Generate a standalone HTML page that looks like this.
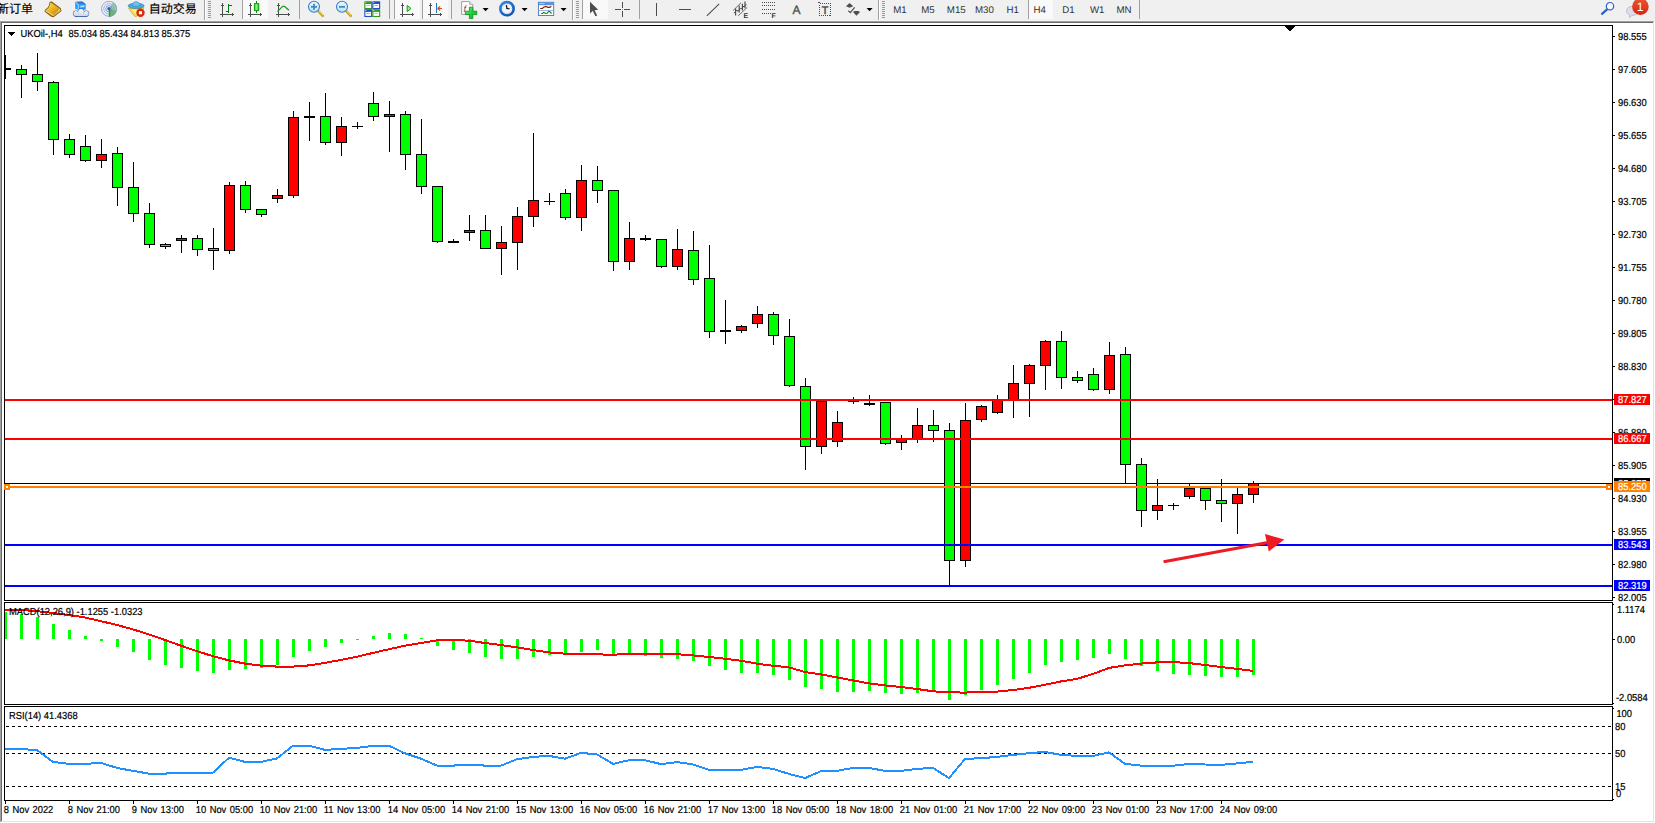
<!DOCTYPE html>
<html><head><meta charset="utf-8"><title>UKOil-,H4</title>
<style>html,body{margin:0;padding:0;background:#fff;overflow:hidden}svg{display:block;text-rendering:geometricPrecision;font-family:"Liberation Sans","Noto Sans CJK SC",sans-serif}</style>
</head><body>
<svg width="1655" height="823" viewBox="0 0 1655 823">
<rect x="0" y="0" width="1655" height="823" fill="#fff"/>
<g shape-rendering="crispEdges">
<rect x="0" y="0" width="1655" height="20" fill="#f0f0f0"/>
<rect x="0" y="20" width="1655" height="1" fill="#f4f4f4"/>
<rect x="0" y="21" width="1654" height="1" fill="#a0a0a0"/>
<rect x="1" y="22" width="1652" height="1" fill="#696969"/>
<rect x="0" y="21" width="1" height="801" fill="#a0a0a0"/>
<rect x="1" y="22" width="1" height="799" fill="#696969"/>
<rect x="1653" y="22" width="1" height="800" fill="#e3e3e3"/>
<rect x="1" y="821" width="1653" height="1" fill="#e3e3e3"/>
<rect x="4" y="25" width="1609" height="1" fill="#000"/>
<rect x="4" y="600" width="1609" height="1" fill="#000"/>
<rect x="4" y="25" width="1" height="576" fill="#000"/>
<rect x="1612" y="25" width="1" height="576" fill="#000"/>
<rect x="4" y="602" width="1609" height="1" fill="#000"/>
<rect x="4" y="704" width="1609" height="1" fill="#000"/>
<rect x="4" y="602" width="1" height="103" fill="#000"/>
<rect x="1612" y="602" width="1" height="103" fill="#000"/>
<rect x="4" y="706" width="1609" height="1" fill="#000"/>
<rect x="4" y="800" width="1609" height="1" fill="#000"/>
<rect x="4" y="706" width="1" height="95" fill="#000"/>
<rect x="1612" y="706" width="1" height="95" fill="#000"/>
</g>
<g id="toolbar">
<defs>
<linearGradient id="gold" x1="0" y1="0" x2="1" y2="1"><stop offset="0" stop-color="#fbe27a"/><stop offset="0.5" stop-color="#e9b41f"/><stop offset="1" stop-color="#b87a12"/></linearGradient>
<linearGradient id="grn" x1="0" y1="0" x2="1" y2="0"><stop offset="0" stop-color="#1fd11f"/><stop offset="0.5" stop-color="#8df58d"/><stop offset="1" stop-color="#16b816"/></linearGradient>
<linearGradient id="lens" x1="0" y1="0" x2="0" y2="1"><stop offset="0" stop-color="#eaf7ff"/><stop offset="1" stop-color="#b9e1f7"/></linearGradient>
<linearGradient id="badge" x1="0" y1="0" x2="0" y2="1"><stop offset="0" stop-color="#e8573a"/><stop offset="1" stop-color="#d8230f"/></linearGradient>
<linearGradient id="cloud" gradientUnits="userSpaceOnUse" x1="0" y1="9" x2="0" y2="16.5"><stop offset="0" stop-color="#ffffff"/><stop offset="1" stop-color="#c3d3ea"/></linearGradient>
<radialGradient id="clk" cx="0.4" cy="0.35" r="0.7"><stop offset="0" stop-color="#3aa0f5"/><stop offset="1" stop-color="#0b4fb0"/></radialGradient>
<linearGradient id="plusg" x1="0" y1="0" x2="1" y2="1"><stop offset="0" stop-color="#7af08a"/><stop offset="0.5" stop-color="#1fd23a"/><stop offset="1" stop-color="#10b028"/></linearGradient>
</defs>
<g shape-rendering="crispEdges">
<rect x="243" y="0" width="25" height="19" fill="#f9f9f9"/>
<rect x="395" y="0" width="25" height="19" fill="#f9f9f9"/>
<rect x="423" y="0" width="25" height="19" fill="#f9f9f9"/>
<rect x="583" y="0" width="25" height="19" fill="#f9f9f9"/>
<rect x="1029" y="0" width="24" height="19" fill="#f9f9f9"/>
<rect x="204" y="0" width="1" height="20" fill="#a0a0a0"/>
<rect x="205" y="0" width="1" height="20" fill="#fff"/>
<rect x="208" y="1" width="3" height="1" fill="#999"/>
<rect x="208" y="3" width="3" height="1" fill="#999"/>
<rect x="208" y="5" width="3" height="1" fill="#999"/>
<rect x="208" y="7" width="3" height="1" fill="#999"/>
<rect x="208" y="9" width="3" height="1" fill="#999"/>
<rect x="208" y="11" width="3" height="1" fill="#999"/>
<rect x="208" y="13" width="3" height="1" fill="#999"/>
<rect x="208" y="15" width="3" height="1" fill="#999"/>
<rect x="208" y="17" width="3" height="1" fill="#999"/>
<rect x="242" y="0" width="1" height="19" fill="#a0a0a0"/>
<rect x="299" y="0" width="1" height="19" fill="#a0a0a0"/>
<rect x="389" y="0" width="1" height="19" fill="#a0a0a0"/>
<rect x="394" y="0" width="1" height="19" fill="#a0a0a0"/>
<rect x="422" y="0" width="1" height="19" fill="#a0a0a0"/>
<rect x="451" y="0" width="1" height="19" fill="#a0a0a0"/>
<rect x="582" y="0" width="1" height="19" fill="#a0a0a0"/>
<rect x="639" y="0" width="1" height="19" fill="#a0a0a0"/>
<rect x="1028" y="0" width="1" height="19" fill="#a0a0a0"/>
<rect x="1139" y="0" width="1" height="19" fill="#a0a0a0"/>
<rect x="572" y="0" width="1" height="20" fill="#a0a0a0"/>
<rect x="573" y="0" width="1" height="20" fill="#fff"/>
<rect x="576" y="1" width="3" height="1" fill="#999"/>
<rect x="576" y="3" width="3" height="1" fill="#999"/>
<rect x="576" y="5" width="3" height="1" fill="#999"/>
<rect x="576" y="7" width="3" height="1" fill="#999"/>
<rect x="576" y="9" width="3" height="1" fill="#999"/>
<rect x="576" y="11" width="3" height="1" fill="#999"/>
<rect x="576" y="13" width="3" height="1" fill="#999"/>
<rect x="576" y="15" width="3" height="1" fill="#999"/>
<rect x="576" y="17" width="3" height="1" fill="#999"/>
<rect x="878" y="0" width="1" height="20" fill="#a0a0a0"/>
<rect x="879" y="0" width="1" height="20" fill="#fff"/>
<rect x="882" y="1" width="3" height="1" fill="#999"/>
<rect x="882" y="3" width="3" height="1" fill="#999"/>
<rect x="882" y="5" width="3" height="1" fill="#999"/>
<rect x="882" y="7" width="3" height="1" fill="#999"/>
<rect x="882" y="9" width="3" height="1" fill="#999"/>
<rect x="882" y="11" width="3" height="1" fill="#999"/>
<rect x="882" y="13" width="3" height="1" fill="#999"/>
<rect x="882" y="15" width="3" height="1" fill="#999"/>
<rect x="882" y="17" width="3" height="1" fill="#999"/>
</g>
<text x="-3" y="12.6" font-size="12" fill="#000" stroke="#000" stroke-width="0.15">新订单</text>
<text x="148.7" y="12.6" font-size="12" fill="#000" stroke="#000" stroke-width="0.15" textLength="48" lengthAdjust="spacing">自动交易</text>
<path d="M50.2,2.2 L51.5,2 L60.3,8.5 L61,10.8 L53.2,16.8 L51.5,16.2 L45.1,11.3 L45.4,10.2 L48.5,7.4 L49.5,5.1 Z" fill="#d9a21c" stroke="#8f5c0c" stroke-width="1.1" stroke-linejoin="round"/>
<path d="M50.4,2.8 L59.9,8.8 L54.2,14.9 L45.8,10.4 L48.8,7.6 L49.8,5.2 Z" fill="url(#gold)"/>
<path d="M54.2,14.9 L59.9,8.8 L60.6,10.7 L53.3,16.3 Z" fill="#e9dcaa"/>
<path d="M54.6,15.4 L60.3,9.9" stroke="#a87a28" stroke-width="0.5" fill="none"/>
<path d="M45.6,10.8 L53.6,15.4" stroke="#f6dc7a" stroke-width="1" fill="none"/>
<polygon points="75.2,1.7 82,1.35 85.7,3.7 78.2,4.4" fill="#2f78e4"/>
<polygon points="75.2,1.7 78.2,4.4 78.2,9.8 75.2,8.8" fill="#18a0ff"/>
<polygon points="78.2,4.4 85.7,3.7 85.7,9.5 78.2,9.8" fill="#1b8ef2"/>
<polygon points="79.6,5.3 85,4.9 85,7.7 79.6,7.9" fill="#4db2ff"/>
<path d="M80.6,6.8 L84.2,5.8" stroke="#fff" stroke-width="0.8"/>
<path d="M75.8,2.2 L78.2,4.5 L78.2,9.6" stroke="#e8f6ff" stroke-width="0.7" fill="none"/>
<g fill="#4468b0" stroke="#4468b0" stroke-width="1.1"><circle cx="75.9" cy="13.6" r="2.5"/><circle cx="81" cy="11.9" r="2.9"/><circle cx="86.2" cy="13.5" r="2.5"/><rect x="75.9" y="13.6" width="10.3" height="2.5"/></g>
<g fill="url(#cloud)"><circle cx="75.9" cy="13.6" r="2.5"/><circle cx="81" cy="11.9" r="2.9"/><circle cx="86.2" cy="13.5" r="2.5"/><rect x="75.9" y="13.6" width="10.3" height="2.5"/></g>
<path d="M74.6,16.5 L87.6,16.5" stroke="#3a5fa8" stroke-width="0.8"/>
<g fill="none">
<path d="M109,8.8 L113,1.9 A8,8 0 0 1 109,16.8 Z" fill="#4fb04f" opacity="0.5"/>
<path d="M109,8.8 L116.6,11 A8,8 0 0 1 109,16.8 Z" fill="#2f9f2f" opacity="0.45"/>
<circle cx="109" cy="8.8" r="7.5" stroke="#6f92dc" stroke-width="1" opacity="0.75"/>
<circle cx="109" cy="8.8" r="5.2" stroke="#6f92dc" stroke-width="0.9" opacity="0.7"/>
<circle cx="109" cy="8.8" r="3.2" stroke="#5580d8" stroke-width="0.9" opacity="0.8"/>
<circle cx="109" cy="8.8" r="1.7" fill="#2457d2"/>
<line x1="109.5" y1="9.2" x2="109.5" y2="16.7" stroke="#1fa01f" stroke-width="1.3"/>
</g>
<polygon points="128.6,8.4 144,7.8 141,12.4 136,16.8 134.4,16" fill="#f8da4a" stroke="#d2a418" stroke-width="0.7" stroke-linejoin="round"/>
<polygon points="131.5,9.6 139,9.4 136,14.6" fill="#fff08a" opacity="0.8"/>
<ellipse cx="136.1" cy="5.9" rx="8" ry="2.7" fill="#4ea9de" stroke="#2f86b8" stroke-width="0.7"/>
<path d="M132.3,5.4 C132.3,0.4 140,0.4 140,5.4 C138,6.6 134.3,6.6 132.3,5.4 Z" fill="#72c0ec" stroke="#2f86b8" stroke-width="0.6"/>
<circle cx="140.5" cy="12.7" r="4.2" fill="#dc2606"/>
<rect x="138.9" y="11.2" width="3.2" height="3.1" fill="#fff"/>
<g shape-rendering="crispEdges" fill="#4d4d4d">
<rect x="222" y="4" width="1" height="13" fill="#4d4d4d"/>
<rect x="220" y="14" width="14" height="1" fill="#4d4d4d"/>
<rect x="221" y="5" width="3" height="1" fill="#4d4d4d"/>
<rect x="222" y="3" width="1" height="1" fill="#4d4d4d"/>
<rect x="232" y="13" width="1" height="3" fill="#4d4d4d"/>
<rect x="233" y="14" width="1" height="1" fill="#4d4d4d"/>
</g>
<g shape-rendering="crispEdges">
<rect x="228" y="4" width="1" height="9" fill="#0a7a0a"/>
<rect x="229" y="5" width="3" height="1" fill="#0a7a0a"/>
<rect x="226" y="11" width="2" height="1" fill="#0a7a0a"/>
</g>
<g shape-rendering="crispEdges" fill="#4d4d4d">
<rect x="250" y="4" width="1" height="13" fill="#4d4d4d"/>
<rect x="248" y="14" width="14" height="1" fill="#4d4d4d"/>
<rect x="249" y="5" width="3" height="1" fill="#4d4d4d"/>
<rect x="250" y="3" width="1" height="1" fill="#4d4d4d"/>
<rect x="260" y="13" width="1" height="3" fill="#4d4d4d"/>
<rect x="261" y="14" width="1" height="1" fill="#4d4d4d"/>
</g>
<g shape-rendering="crispEdges">
<rect x="256" y="1" width="1" height="12" fill="#0a8a0a"/>
</g>
<rect x="254.4" y="3.6" width="4.4" height="7" fill="url(#grn)" stroke="#0a9a0a" stroke-width="0.9"/>
<g shape-rendering="crispEdges" fill="#4d4d4d">
<rect x="278" y="4" width="1" height="13" fill="#4d4d4d"/>
<rect x="276" y="14" width="14" height="1" fill="#4d4d4d"/>
<rect x="277" y="5" width="3" height="1" fill="#4d4d4d"/>
<rect x="278" y="3" width="1" height="1" fill="#4d4d4d"/>
<rect x="288" y="13" width="1" height="3" fill="#4d4d4d"/>
<rect x="289" y="14" width="1" height="1" fill="#4d4d4d"/>
</g>
<path d="M277.4,11.6 C280,10 281.5,6.2 283.6,6.2 C285.6,6.2 286.8,9.4 289.2,10.2" fill="none" stroke="#1d9a1d" stroke-width="1.2"/>
<line x1="318.3" y1="11.2" x2="322.8" y2="15.8" stroke="#c9a227" stroke-width="2.6" stroke-linecap="round"/>
<line x1="318.6" y1="10.8" x2="323" y2="15.2" stroke="#f3dc6a" stroke-width="1" />
<circle cx="314" cy="6.8" r="5.5" fill="url(#lens)" stroke="#3b82c8" stroke-width="1.1"/>
<rect x="311" y="6" width="6" height="1.7" fill="#3f88b4"/>
<rect x="313.15" y="3.8" width="1.7" height="6" fill="#3f88b4"/>
<line x1="346.3" y1="11.2" x2="350.8" y2="15.8" stroke="#c9a227" stroke-width="2.6" stroke-linecap="round"/>
<line x1="346.6" y1="10.8" x2="351" y2="15.2" stroke="#f3dc6a" stroke-width="1" />
<circle cx="342" cy="6.8" r="5.5" fill="url(#lens)" stroke="#3b82c8" stroke-width="1.1"/>
<rect x="339" y="6" width="6" height="1.7" fill="#3f88b4"/>
<rect x="364.3" y="1.3" width="7.9" height="7.9" fill="#2f9a1c" rx="0.6"/>
<rect x="365.40000000000003" y="4.0" width="5.7" height="4" fill="#fff"/>
<rect x="366.3" y="5.1" width="3.9" height="0.9" fill="#9fd88f"/>
<rect x="365.3" y="2.2" width="0.9" height="0.9" fill="#fff"/>
<rect x="372.3" y="1.3" width="7.9" height="7.9" fill="#1f4fc8" rx="0.6"/>
<rect x="373.40000000000003" y="4.0" width="5.7" height="4" fill="#fff"/>
<rect x="374.3" y="5.1" width="3.9" height="0.9" fill="#8faaf0"/>
<rect x="373.3" y="2.2" width="0.9" height="0.9" fill="#fff"/>
<rect x="364.3" y="9.2" width="7.9" height="7.9" fill="#1f4fc8" rx="0.6"/>
<rect x="365.40000000000003" y="11.899999999999999" width="5.7" height="4" fill="#fff"/>
<rect x="366.3" y="13.0" width="3.9" height="0.9" fill="#8faaf0"/>
<rect x="365.3" y="10.1" width="0.9" height="0.9" fill="#fff"/>
<rect x="372.3" y="9.2" width="7.9" height="7.9" fill="#2f9a1c" rx="0.6"/>
<rect x="373.40000000000003" y="11.899999999999999" width="5.7" height="4" fill="#fff"/>
<rect x="374.3" y="13.0" width="3.9" height="0.9" fill="#9fd88f"/>
<rect x="373.3" y="10.1" width="0.9" height="0.9" fill="#fff"/>
<g shape-rendering="crispEdges" fill="#4d4d4d">
<rect x="402" y="4" width="1" height="13" fill="#4d4d4d"/>
<rect x="400" y="14" width="14" height="1" fill="#4d4d4d"/>
<rect x="401" y="5" width="3" height="1" fill="#4d4d4d"/>
<rect x="402" y="3" width="1" height="1" fill="#4d4d4d"/>
<rect x="412" y="13" width="1" height="3" fill="#4d4d4d"/>
<rect x="413" y="14" width="1" height="1" fill="#4d4d4d"/>
</g>
<polygon points="407.2,5.4 411,8.5 407.2,11.6" fill="#9cf09c" stroke="#10a010" stroke-width="1"/>
<g shape-rendering="crispEdges" fill="#4d4d4d">
<rect x="430" y="4" width="1" height="13" fill="#4d4d4d"/>
<rect x="428" y="14" width="14" height="1" fill="#4d4d4d"/>
<rect x="429" y="5" width="3" height="1" fill="#4d4d4d"/>
<rect x="430" y="3" width="1" height="1" fill="#4d4d4d"/>
<rect x="440" y="13" width="1" height="3" fill="#4d4d4d"/>
<rect x="441" y="14" width="1" height="1" fill="#4d4d4d"/>
</g>
<g shape-rendering="crispEdges">
<rect x="436" y="3" width="1" height="10" fill="#1878b8"/>
</g>
<path d="M437.6,8.5 L442,8.5 M437.6,8.5 L440.2,6.4 M437.6,8.5 L440.2,10.6" stroke="#d84a10" stroke-width="1.2" fill="none"/>
<path d="M461.6,1.6 L469.6,1.6 L472.8,4.6 L472.8,14.4 L461.6,14.4 Z" fill="#fdfdfd" stroke="#8a8a8a" stroke-width="0.8"/>
<path d="M469.6,1.6 L469.6,4.6 L472.8,4.6" fill="#e4e4e4" stroke="#8a8a8a" stroke-width="0.6"/>
<text x="463.4" y="11.6" font-size="9" font-style="italic" fill="#5a4a30">f</text>
<path d="M469.4,7.2 h3.4 v4 h4 v3.4 h-4 v4 h-3.4 v-4 h-4 v-3.4 h4 Z" fill="url(#plusg)" stroke="#0c8a1c" stroke-width="0.8" stroke-linejoin="round"/>
<polygon points="482.6,8 488.6,8 485.6,11.2" fill="#000"/>
<circle cx="507" cy="8.7" r="7.9" fill="url(#clk)"/>
<circle cx="507" cy="8.7" r="5.3" fill="#f4f7fb"/>
<g stroke="#9aa0a8" stroke-width="0.6">
<line x1="507.00" y1="4.60" x2="507.00" y2="3.80"/>
<line x1="509.05" y1="5.15" x2="509.45" y2="4.46"/>
<line x1="510.55" y1="6.65" x2="511.24" y2="6.25"/>
<line x1="511.10" y1="8.70" x2="511.90" y2="8.70"/>
<line x1="510.55" y1="10.75" x2="511.24" y2="11.15"/>
<line x1="509.05" y1="12.25" x2="509.45" y2="12.94"/>
<line x1="507.00" y1="12.80" x2="507.00" y2="13.60"/>
<line x1="504.95" y1="12.25" x2="504.55" y2="12.94"/>
<line x1="503.45" y1="10.75" x2="502.76" y2="11.15"/>
<line x1="502.90" y1="8.70" x2="502.10" y2="8.70"/>
<line x1="503.45" y1="6.65" x2="502.76" y2="6.25"/>
<line x1="504.95" y1="5.15" x2="504.55" y2="4.46"/>
</g>
<path d="M507,9 L506.4,5.2" stroke="#111" stroke-width="1.3" fill="none"/><path d="M506.8,8.7 L509.7,8.7" stroke="#111" stroke-width="1.1" fill="none"/>
<polygon points="521.6,8 527.6,8 524.6,11.2" fill="#000"/>
<rect x="538.4" y="2.3" width="15.3" height="13.2" fill="#fff" stroke="#3a7ac8" stroke-width="0.9"/>
<rect x="538.8" y="2.7" width="14.5" height="2.5" fill="#5596e2"/>
<rect x="539.4" y="3.2" width="5" height="0.8" fill="#b9d8f8"/>
<rect x="538.8" y="10" width="14.5" height="0.9" fill="#8fb4e0"/>
<polyline points="540.1,8.5 542.4,8.5 543.7,7.3 545.8,6.4 547.9,7.3 549.5,7.3 551.3,6.4" fill="none" stroke="#8a2008" stroke-width="1.2"/>
<polyline points="541.2,13.5 542.4,13.5 543.7,12.4 545.8,13.5 547,13.3 548.8,11.2 550.2,11.9 551.5,13.5" fill="none" stroke="#0a8a1a" stroke-width="1.2"/>
<polygon points="560.6,8 566.6,8 563.6,11.2" fill="#000"/>
<polygon points="590,1.8 590,13.4 592.8,10.8 595.4,16.2 597.2,15.4 594.6,10.2 598.2,9.8" fill="#4d4d4d"/>
<g shape-rendering="crispEdges">
<rect x="622" y="2" width="1" height="6" fill="#4d4d4d"/>
<rect x="622" y="11" width="1" height="6" fill="#4d4d4d"/>
<rect x="615" y="9" width="6" height="1" fill="#4d4d4d"/>
<rect x="624" y="9" width="6" height="1" fill="#4d4d4d"/>
<rect x="622" y="9" width="1" height="1" fill="#9a9a9a"/>
<rect x="656" y="3" width="1" height="13" fill="#4d4d4d"/>
<rect x="679" y="9" width="12" height="1" fill="#4d4d4d"/>
</g>
<line x1="706.8" y1="15.8" x2="719.2" y2="3.8" stroke="#4d4d4d" stroke-width="1.1"/>
<g stroke="#4d4d4d" fill="none">
<line x1="733" y1="10.6" x2="741" y2="2.8" stroke-width="0.8"/><line x1="738.2" y1="15.8" x2="747.2" y2="7.4" stroke-width="0.8"/>
<path d="M735.6,8.4 L735.6,15.4 M739.2,5.6 L739.2,12.6 M742.4,3.8 L742.4,10.6 M745,1.4 L745,8.2" stroke-width="1.2"/>
<path d="M734,13.2 L736.8,10 L738,11.4 L740.6,8 L741.6,9 L743.8,6 L744.4,6.8 L746.4,4.2" stroke-width="1"/>
</g>
<text x="743.6" y="17.6" font-size="7" font-weight="bold" fill="#333">E</text>
<g stroke="#4d4d4d" stroke-width="1" stroke-dasharray="1,1" shape-rendering="crispEdges">
<line x1="762" y1="2.5" x2="775" y2="2.5"/>
<line x1="762" y1="5.5" x2="775" y2="5.5"/>
<line x1="762" y1="9.5" x2="775" y2="9.5"/>
<line x1="762" y1="13.5" x2="771" y2="13.5"/>
</g>
<text x="771.4" y="17.6" font-size="7" font-weight="bold" fill="#333">F</text>
<text x="792.6" y="13.8" font-size="12" fill="#4d4d4d" stroke="#4d4d4d" stroke-width="0.35">A</text>
<rect x="819.5" y="3.5" width="11" height="12" fill="none" stroke="#4d4d4d" stroke-width="1" stroke-dasharray="1,1" shape-rendering="crispEdges"/>
<rect x="818" y="2" width="2" height="1" fill="#4d4d4d"/>
<text x="825" y="13.7" font-size="10.8" fill="#4d4d4d" stroke="#4d4d4d" stroke-width="0.45" text-anchor="middle">T</text>
<polygon points="849.6,3 853.2,6.2 849.6,7.8 846,6.2" fill="#4d4d4d"/>
<polyline points="848.4,10.8 850.4,12.6 854.6,7.4" fill="none" stroke="#4d4d4d" stroke-width="1.2"/>
<polygon points="853,12 860,12 856.5,15.8" fill="#4d4d4d"/>
<polygon points="854.6,11 858.4,11 860,12 853,12" fill="#4d4d4d"/>
<polygon points="866.6,8 872.6,8 869.6,11.2" fill="#000"/>
<text x="900" y="13" font-size="9.7" fill="#333" text-anchor="middle">M1</text>
<text x="928" y="13" font-size="9.7" fill="#333" text-anchor="middle">M5</text>
<text x="956.3" y="13" font-size="9.7" fill="#333" text-anchor="middle">M15</text>
<text x="984.4" y="13" font-size="9.7" fill="#333" text-anchor="middle">M30</text>
<text x="1012.6" y="13" font-size="9.7" fill="#333" text-anchor="middle">H1</text>
<text x="1039.7" y="13" font-size="9.7" fill="#333" text-anchor="middle">H4</text>
<text x="1068.4" y="13" font-size="9.7" fill="#333" text-anchor="middle">D1</text>
<text x="1097.2" y="13" font-size="9.7" fill="#333" text-anchor="middle">W1</text>
<text x="1124" y="13" font-size="9.7" fill="#333" text-anchor="middle">MN</text>
<line x1="1607.4" y1="9.2" x2="1602" y2="13.8" stroke="#2a5fd0" stroke-width="2.2" stroke-linecap="round"/>
<circle cx="1610" cy="6.2" r="3.7" fill="#f7f9ff" stroke="#2a5fd0" stroke-width="1.2"/>
<path d="M1626.6,11 C1626.6,7.6 1629.4,6.4 1632.4,6.4 C1636,6.4 1638.2,8 1638.2,11 C1638.2,14 1635.6,15.4 1632,15.4 L1629.4,17.6 L1629.8,15.2 C1627.8,14.6 1626.6,13.2 1626.6,11 Z" fill="#dcdde6" stroke="#b4b6c2" stroke-width="0.8"/>
<circle cx="1640.4" cy="6.6" r="8.3" fill="url(#badge)"/>
<text x="1640.2" y="11" font-size="12" fill="#fff" text-anchor="middle">1</text>
</g>
<g shape-rendering="crispEdges">
<rect x="5" y="483" width="1607" height="1" fill="#000"/>
<rect x="5" y="55" width="1" height="24" fill="#000"/>
<rect x="5" y="68" width="6" height="2" fill="#000"/>
<rect x="21" y="65" width="1" height="33" fill="#000"/>
<rect x="16" y="69" width="11" height="6" fill="#000"/>
<rect x="17" y="70" width="9" height="4" fill="#00ff00"/>
<rect x="37" y="53" width="1" height="38" fill="#000"/>
<rect x="32" y="74" width="11" height="8" fill="#000"/>
<rect x="33" y="75" width="9" height="6" fill="#00ff00"/>
<rect x="53" y="81" width="1" height="74" fill="#000"/>
<rect x="48" y="82" width="11" height="58" fill="#000"/>
<rect x="49" y="83" width="9" height="56" fill="#00ff00"/>
<rect x="69" y="134" width="1" height="24" fill="#000"/>
<rect x="64" y="139" width="11" height="16" fill="#000"/>
<rect x="65" y="140" width="9" height="14" fill="#00ff00"/>
<rect x="85" y="135" width="1" height="27" fill="#000"/>
<rect x="80" y="146" width="11" height="15" fill="#000"/>
<rect x="81" y="147" width="9" height="13" fill="#00ff00"/>
<rect x="101" y="139" width="1" height="29" fill="#000"/>
<rect x="96" y="154" width="11" height="7" fill="#000"/>
<rect x="97" y="155" width="9" height="5" fill="#ff0000"/>
<rect x="117" y="147" width="1" height="59" fill="#000"/>
<rect x="112" y="153" width="11" height="35" fill="#000"/>
<rect x="113" y="154" width="9" height="33" fill="#00ff00"/>
<rect x="133" y="162" width="1" height="60" fill="#000"/>
<rect x="128" y="187" width="11" height="27" fill="#000"/>
<rect x="129" y="188" width="9" height="25" fill="#00ff00"/>
<rect x="149" y="203" width="1" height="45" fill="#000"/>
<rect x="144" y="213" width="11" height="32" fill="#000"/>
<rect x="145" y="214" width="9" height="30" fill="#00ff00"/>
<rect x="165" y="243" width="1" height="6" fill="#000"/>
<rect x="160" y="244" width="11" height="3" fill="#000"/>
<rect x="161" y="245" width="9" height="1" fill="#00ff00"/>
<rect x="181" y="235" width="1" height="18" fill="#000"/>
<rect x="176" y="238" width="11" height="3" fill="#000"/>
<rect x="177" y="239" width="9" height="1" fill="#ff0000"/>
<rect x="197" y="235" width="1" height="21" fill="#000"/>
<rect x="192" y="238" width="11" height="12" fill="#000"/>
<rect x="193" y="239" width="9" height="10" fill="#00ff00"/>
<rect x="213" y="228" width="1" height="42" fill="#000"/>
<rect x="208" y="248" width="11" height="3" fill="#000"/>
<rect x="209" y="249" width="9" height="1" fill="#00ff00"/>
<rect x="229" y="182" width="1" height="72" fill="#000"/>
<rect x="224" y="185" width="11" height="66" fill="#000"/>
<rect x="225" y="186" width="9" height="64" fill="#ff0000"/>
<rect x="245" y="181" width="1" height="32" fill="#000"/>
<rect x="240" y="185" width="11" height="25" fill="#000"/>
<rect x="241" y="186" width="9" height="23" fill="#00ff00"/>
<rect x="261" y="209" width="1" height="8" fill="#000"/>
<rect x="256" y="209" width="11" height="6" fill="#000"/>
<rect x="257" y="210" width="9" height="4" fill="#00ff00"/>
<rect x="277" y="189" width="1" height="14" fill="#000"/>
<rect x="272" y="195" width="11" height="4" fill="#000"/>
<rect x="273" y="196" width="9" height="2" fill="#ff0000"/>
<rect x="293" y="111" width="1" height="87" fill="#000"/>
<rect x="288" y="117" width="11" height="79" fill="#000"/>
<rect x="289" y="118" width="9" height="77" fill="#ff0000"/>
<rect x="309" y="102" width="1" height="39" fill="#000"/>
<rect x="304" y="116" width="11" height="2" fill="#000"/>
<rect x="325" y="93" width="1" height="52" fill="#000"/>
<rect x="320" y="116" width="11" height="27" fill="#000"/>
<rect x="321" y="117" width="9" height="25" fill="#00ff00"/>
<rect x="341" y="117" width="1" height="39" fill="#000"/>
<rect x="336" y="126" width="11" height="17" fill="#000"/>
<rect x="337" y="127" width="9" height="15" fill="#ff0000"/>
<rect x="357" y="122" width="1" height="7" fill="#000"/>
<rect x="352" y="126" width="11" height="1" fill="#000"/>
<rect x="373" y="92" width="1" height="29" fill="#000"/>
<rect x="368" y="103" width="11" height="14" fill="#000"/>
<rect x="369" y="104" width="9" height="12" fill="#00ff00"/>
<rect x="389" y="101" width="1" height="51" fill="#000"/>
<rect x="384" y="114" width="11" height="3" fill="#000"/>
<rect x="385" y="115" width="9" height="1" fill="#ff0000"/>
<rect x="405" y="111" width="1" height="59" fill="#000"/>
<rect x="400" y="114" width="11" height="41" fill="#000"/>
<rect x="401" y="115" width="9" height="39" fill="#00ff00"/>
<rect x="421" y="119" width="1" height="75" fill="#000"/>
<rect x="416" y="154" width="11" height="33" fill="#000"/>
<rect x="417" y="155" width="9" height="31" fill="#00ff00"/>
<rect x="437" y="186" width="1" height="57" fill="#000"/>
<rect x="432" y="186" width="11" height="56" fill="#000"/>
<rect x="433" y="187" width="9" height="54" fill="#00ff00"/>
<rect x="453" y="239" width="1" height="4" fill="#000"/>
<rect x="448" y="241" width="11" height="2" fill="#000"/>
<rect x="469" y="215" width="1" height="26" fill="#000"/>
<rect x="464" y="230" width="11" height="3" fill="#000"/>
<rect x="465" y="231" width="9" height="1" fill="#ff0000"/>
<rect x="485" y="215" width="1" height="34" fill="#000"/>
<rect x="480" y="230" width="11" height="19" fill="#000"/>
<rect x="481" y="231" width="9" height="17" fill="#00ff00"/>
<rect x="501" y="226" width="1" height="49" fill="#000"/>
<rect x="496" y="242" width="11" height="7" fill="#000"/>
<rect x="497" y="243" width="9" height="5" fill="#ff0000"/>
<rect x="517" y="207" width="1" height="63" fill="#000"/>
<rect x="512" y="216" width="11" height="27" fill="#000"/>
<rect x="513" y="217" width="9" height="25" fill="#ff0000"/>
<rect x="533" y="133" width="1" height="94" fill="#000"/>
<rect x="528" y="200" width="11" height="17" fill="#000"/>
<rect x="529" y="201" width="9" height="15" fill="#ff0000"/>
<rect x="549" y="193" width="1" height="12" fill="#000"/>
<rect x="544" y="201" width="11" height="1" fill="#000"/>
<rect x="565" y="189" width="1" height="31" fill="#000"/>
<rect x="560" y="193" width="11" height="25" fill="#000"/>
<rect x="561" y="194" width="9" height="23" fill="#00ff00"/>
<rect x="581" y="165" width="1" height="66" fill="#000"/>
<rect x="576" y="180" width="11" height="38" fill="#000"/>
<rect x="577" y="181" width="9" height="36" fill="#ff0000"/>
<rect x="597" y="166" width="1" height="37" fill="#000"/>
<rect x="592" y="180" width="11" height="11" fill="#000"/>
<rect x="593" y="181" width="9" height="9" fill="#00ff00"/>
<rect x="613" y="190" width="1" height="81" fill="#000"/>
<rect x="608" y="190" width="11" height="72" fill="#000"/>
<rect x="609" y="191" width="9" height="70" fill="#00ff00"/>
<rect x="629" y="222" width="1" height="48" fill="#000"/>
<rect x="624" y="238" width="11" height="24" fill="#000"/>
<rect x="625" y="239" width="9" height="22" fill="#ff0000"/>
<rect x="645" y="235" width="1" height="6" fill="#000"/>
<rect x="640" y="238" width="11" height="2" fill="#000"/>
<rect x="661" y="239" width="1" height="29" fill="#000"/>
<rect x="656" y="239" width="11" height="28" fill="#000"/>
<rect x="657" y="240" width="9" height="26" fill="#00ff00"/>
<rect x="677" y="229" width="1" height="41" fill="#000"/>
<rect x="672" y="249" width="11" height="18" fill="#000"/>
<rect x="673" y="250" width="9" height="16" fill="#ff0000"/>
<rect x="693" y="231" width="1" height="54" fill="#000"/>
<rect x="688" y="250" width="11" height="30" fill="#000"/>
<rect x="689" y="251" width="9" height="28" fill="#00ff00"/>
<rect x="709" y="245" width="1" height="93" fill="#000"/>
<rect x="704" y="278" width="11" height="54" fill="#000"/>
<rect x="705" y="279" width="9" height="52" fill="#00ff00"/>
<rect x="725" y="300" width="1" height="44" fill="#000"/>
<rect x="720" y="330" width="11" height="2" fill="#000"/>
<rect x="741" y="325" width="1" height="8" fill="#000"/>
<rect x="736" y="326" width="11" height="5" fill="#000"/>
<rect x="737" y="327" width="9" height="3" fill="#ff0000"/>
<rect x="757" y="306" width="1" height="22" fill="#000"/>
<rect x="752" y="314" width="11" height="10" fill="#000"/>
<rect x="753" y="315" width="9" height="8" fill="#ff0000"/>
<rect x="773" y="312" width="1" height="33" fill="#000"/>
<rect x="768" y="314" width="11" height="22" fill="#000"/>
<rect x="769" y="315" width="9" height="20" fill="#00ff00"/>
<rect x="789" y="319" width="1" height="68" fill="#000"/>
<rect x="784" y="336" width="11" height="50" fill="#000"/>
<rect x="785" y="337" width="9" height="48" fill="#00ff00"/>
<rect x="805" y="378" width="1" height="92" fill="#000"/>
<rect x="800" y="386" width="11" height="61" fill="#000"/>
<rect x="801" y="387" width="9" height="59" fill="#00ff00"/>
<rect x="821" y="401" width="1" height="53" fill="#000"/>
<rect x="816" y="401" width="11" height="46" fill="#000"/>
<rect x="817" y="402" width="9" height="44" fill="#ff0000"/>
<rect x="837" y="411" width="1" height="36" fill="#000"/>
<rect x="832" y="422" width="11" height="20" fill="#000"/>
<rect x="833" y="423" width="9" height="18" fill="#ff0000"/>
<rect x="853" y="397" width="1" height="7" fill="#000"/>
<rect x="848" y="401" width="11" height="1" fill="#000"/>
<rect x="869" y="395" width="1" height="11" fill="#000"/>
<rect x="864" y="403" width="11" height="2" fill="#000"/>
<rect x="885" y="402" width="1" height="43" fill="#000"/>
<rect x="880" y="402" width="11" height="42" fill="#000"/>
<rect x="881" y="403" width="9" height="40" fill="#00ff00"/>
<rect x="901" y="435" width="1" height="15" fill="#000"/>
<rect x="896" y="438" width="11" height="5" fill="#000"/>
<rect x="897" y="439" width="9" height="3" fill="#ff0000"/>
<rect x="917" y="408" width="1" height="35" fill="#000"/>
<rect x="912" y="425" width="11" height="15" fill="#000"/>
<rect x="913" y="426" width="9" height="13" fill="#ff0000"/>
<rect x="933" y="410" width="1" height="32" fill="#000"/>
<rect x="928" y="425" width="11" height="6" fill="#000"/>
<rect x="929" y="426" width="9" height="4" fill="#00ff00"/>
<rect x="949" y="423" width="1" height="162" fill="#000"/>
<rect x="944" y="430" width="11" height="131" fill="#000"/>
<rect x="945" y="431" width="9" height="129" fill="#00ff00"/>
<rect x="965" y="403" width="1" height="164" fill="#000"/>
<rect x="960" y="420" width="11" height="141" fill="#000"/>
<rect x="961" y="421" width="9" height="139" fill="#ff0000"/>
<rect x="981" y="405" width="1" height="17" fill="#000"/>
<rect x="976" y="406" width="11" height="14" fill="#000"/>
<rect x="977" y="407" width="9" height="12" fill="#ff0000"/>
<rect x="997" y="395" width="1" height="19" fill="#000"/>
<rect x="992" y="400" width="11" height="13" fill="#000"/>
<rect x="993" y="401" width="9" height="11" fill="#ff0000"/>
<rect x="1013" y="365" width="1" height="53" fill="#000"/>
<rect x="1008" y="383" width="11" height="17" fill="#000"/>
<rect x="1009" y="384" width="9" height="15" fill="#ff0000"/>
<rect x="1029" y="364" width="1" height="53" fill="#000"/>
<rect x="1024" y="365" width="11" height="19" fill="#000"/>
<rect x="1025" y="366" width="9" height="17" fill="#ff0000"/>
<rect x="1045" y="340" width="1" height="50" fill="#000"/>
<rect x="1040" y="341" width="11" height="25" fill="#000"/>
<rect x="1041" y="342" width="9" height="23" fill="#ff0000"/>
<rect x="1061" y="331" width="1" height="58" fill="#000"/>
<rect x="1056" y="341" width="11" height="37" fill="#000"/>
<rect x="1057" y="342" width="9" height="35" fill="#00ff00"/>
<rect x="1077" y="371" width="1" height="12" fill="#000"/>
<rect x="1072" y="377" width="11" height="4" fill="#000"/>
<rect x="1073" y="378" width="9" height="2" fill="#00ff00"/>
<rect x="1093" y="368" width="1" height="23" fill="#000"/>
<rect x="1088" y="374" width="11" height="16" fill="#000"/>
<rect x="1089" y="375" width="9" height="14" fill="#00ff00"/>
<rect x="1109" y="342" width="1" height="52" fill="#000"/>
<rect x="1104" y="355" width="11" height="35" fill="#000"/>
<rect x="1105" y="356" width="9" height="33" fill="#ff0000"/>
<rect x="1125" y="347" width="1" height="136" fill="#000"/>
<rect x="1120" y="354" width="11" height="111" fill="#000"/>
<rect x="1121" y="355" width="9" height="109" fill="#00ff00"/>
<rect x="1141" y="458" width="1" height="69" fill="#000"/>
<rect x="1136" y="464" width="11" height="47" fill="#000"/>
<rect x="1137" y="465" width="9" height="45" fill="#00ff00"/>
<rect x="1157" y="479" width="1" height="41" fill="#000"/>
<rect x="1152" y="505" width="11" height="6" fill="#000"/>
<rect x="1153" y="506" width="9" height="4" fill="#ff0000"/>
<rect x="1173" y="503" width="1" height="7" fill="#000"/>
<rect x="1168" y="505" width="11" height="1" fill="#000"/>
<rect x="1189" y="484" width="1" height="15" fill="#000"/>
<rect x="1184" y="488" width="11" height="9" fill="#000"/>
<rect x="1185" y="489" width="9" height="7" fill="#ff0000"/>
<rect x="1205" y="486" width="1" height="24" fill="#000"/>
<rect x="1200" y="488" width="11" height="13" fill="#000"/>
<rect x="1201" y="489" width="9" height="11" fill="#00ff00"/>
<rect x="1221" y="479" width="1" height="43" fill="#000"/>
<rect x="1216" y="500" width="11" height="4" fill="#000"/>
<rect x="1217" y="501" width="9" height="2" fill="#00ff00"/>
<rect x="1237" y="488" width="1" height="46" fill="#000"/>
<rect x="1232" y="494" width="11" height="10" fill="#000"/>
<rect x="1233" y="495" width="9" height="8" fill="#ff0000"/>
<rect x="1253" y="481" width="1" height="22" fill="#000"/>
<rect x="1248" y="483" width="11" height="12" fill="#000"/>
<rect x="1249" y="484" width="9" height="10" fill="#ff0000"/>
<rect x="5" y="399" width="1607" height="2" fill="#ff0000"/>
<rect x="5" y="438" width="1607" height="2" fill="#ff0000"/>
<rect x="5" y="486" width="1607" height="2" fill="#ff8000"/>
<rect x="5" y="544" width="1607" height="2" fill="#0000ff"/>
<rect x="5" y="585" width="1607" height="2" fill="#0000ff"/>
<rect x="4" y="484" width="6" height="6" fill="#ff8000"/>
<rect x="6" y="486" width="2" height="2" fill="#fff"/>
<rect x="1606" y="484" width="6" height="6" fill="#ff8000"/>
<rect x="1608" y="486" width="2" height="2" fill="#fff"/>
<polygon points="1284,26 1295,26 1289.5,31.5" fill="#000"/>
<polygon points="8,32 15,32 11.5,36" fill="#000"/>
</g>
<line x1="1163.6" y1="561.7" x2="1268" y2="542.4" stroke="#ed1c24" stroke-width="3"/>
<polygon points="1284.3,539.5 1265,534.1 1268.8,551.5" fill="#ed1c24"/>
<text transform="translate(20.5,37) scale(0.9234,1)" font-size="10.15" fill="#000" stroke="#000" stroke-width="0.2">UKOil-,H4</text>
<text transform="translate(68.5,37) scale(0.9234,1)" font-size="10.15" fill="#000" stroke="#000" stroke-width="0.2">85.034</text>
<text transform="translate(99.6,37) scale(0.9234,1)" font-size="10.15" fill="#000" stroke="#000" stroke-width="0.2">85.434</text>
<text transform="translate(130.6,37) scale(0.9234,1)" font-size="10.15" fill="#000" stroke="#000" stroke-width="0.2">84.813</text>
<text transform="translate(161.6,37) scale(0.9234,1)" font-size="10.15" fill="#000" stroke="#000" stroke-width="0.2">85.375</text>
<g shape-rendering="crispEdges">
<rect x="1613" y="36" width="2" height="1" fill="#000"/>
<rect x="1613" y="69" width="2" height="1" fill="#000"/>
<rect x="1613" y="102" width="2" height="1" fill="#000"/>
<rect x="1613" y="135" width="2" height="1" fill="#000"/>
<rect x="1613" y="168" width="2" height="1" fill="#000"/>
<rect x="1613" y="201" width="2" height="1" fill="#000"/>
<rect x="1613" y="234" width="2" height="1" fill="#000"/>
<rect x="1613" y="267" width="2" height="1" fill="#000"/>
<rect x="1613" y="300" width="2" height="1" fill="#000"/>
<rect x="1613" y="333" width="2" height="1" fill="#000"/>
<rect x="1613" y="366" width="2" height="1" fill="#000"/>
<rect x="1613" y="399" width="2" height="1" fill="#000"/>
<rect x="1613" y="432" width="2" height="1" fill="#000"/>
<rect x="1613" y="465" width="2" height="1" fill="#000"/>
<rect x="1613" y="498" width="2" height="1" fill="#000"/>
<rect x="1613" y="531" width="2" height="1" fill="#000"/>
<rect x="1613" y="564" width="2" height="1" fill="#000"/>
<rect x="1613" y="597" width="2" height="1" fill="#000"/>
</g>
<text transform="translate(1618,40) scale(0.9234,1)" font-size="10.15" fill="#000" stroke="#000" stroke-width="0.2">98.555</text>
<text transform="translate(1618,73) scale(0.9234,1)" font-size="10.15" fill="#000" stroke="#000" stroke-width="0.2">97.605</text>
<text transform="translate(1618,106) scale(0.9234,1)" font-size="10.15" fill="#000" stroke="#000" stroke-width="0.2">96.630</text>
<text transform="translate(1618,139) scale(0.9234,1)" font-size="10.15" fill="#000" stroke="#000" stroke-width="0.2">95.655</text>
<text transform="translate(1618,172) scale(0.9234,1)" font-size="10.15" fill="#000" stroke="#000" stroke-width="0.2">94.680</text>
<text transform="translate(1618,205) scale(0.9234,1)" font-size="10.15" fill="#000" stroke="#000" stroke-width="0.2">93.705</text>
<text transform="translate(1618,238) scale(0.9234,1)" font-size="10.15" fill="#000" stroke="#000" stroke-width="0.2">92.730</text>
<text transform="translate(1618,271) scale(0.9234,1)" font-size="10.15" fill="#000" stroke="#000" stroke-width="0.2">91.755</text>
<text transform="translate(1618,304) scale(0.9234,1)" font-size="10.15" fill="#000" stroke="#000" stroke-width="0.2">90.780</text>
<text transform="translate(1618,337) scale(0.9234,1)" font-size="10.15" fill="#000" stroke="#000" stroke-width="0.2">89.805</text>
<text transform="translate(1618,370) scale(0.9234,1)" font-size="10.15" fill="#000" stroke="#000" stroke-width="0.2">88.830</text>
<text transform="translate(1618,436) scale(0.9234,1)" font-size="10.15" fill="#000" stroke="#000" stroke-width="0.2">86.880</text>
<text transform="translate(1618,469) scale(0.9234,1)" font-size="10.15" fill="#000" stroke="#000" stroke-width="0.2">85.905</text>
<text transform="translate(1618,502) scale(0.9234,1)" font-size="10.15" fill="#000" stroke="#000" stroke-width="0.2">84.930</text>
<text transform="translate(1618,535) scale(0.9234,1)" font-size="10.15" fill="#000" stroke="#000" stroke-width="0.2">83.955</text>
<text transform="translate(1618,568) scale(0.9234,1)" font-size="10.15" fill="#000" stroke="#000" stroke-width="0.2">82.980</text>
<text transform="translate(1618,601) scale(0.9234,1)" font-size="10.15" fill="#000" stroke="#000" stroke-width="0.2">82.005</text>
<rect x="1614" y="394" width="36" height="11" fill="#ff0000" shape-rendering="crispEdges"/>
<text transform="translate(1618,403) scale(0.9234,1)" font-size="10.15" fill="#fff" stroke="#fff" stroke-width="0.2">87.827</text>
<rect x="1614" y="433" width="36" height="11" fill="#ff0000" shape-rendering="crispEdges"/>
<text transform="translate(1618,442) scale(0.9234,1)" font-size="10.15" fill="#fff" stroke="#fff" stroke-width="0.2">86.667</text>
<rect x="1614" y="478" width="36" height="11" fill="#000" shape-rendering="crispEdges"/>
<text transform="translate(1618,487) scale(0.9234,1)" font-size="10.15" fill="#fff" stroke="#fff" stroke-width="0.2">85.375</text>
<rect x="1614" y="481" width="36" height="11" fill="#ff8000" shape-rendering="crispEdges"/>
<text transform="translate(1618,490) scale(0.9234,1)" font-size="10.15" fill="#fff" stroke="#fff" stroke-width="0.2">85.250</text>
<rect x="1614" y="539" width="36" height="11" fill="#0000ff" shape-rendering="crispEdges"/>
<text transform="translate(1618,548) scale(0.9234,1)" font-size="10.15" fill="#fff" stroke="#fff" stroke-width="0.2">83.543</text>
<rect x="1614" y="580" width="36" height="11" fill="#0000ff" shape-rendering="crispEdges"/>
<text transform="translate(1618,589) scale(0.9234,1)" font-size="10.15" fill="#fff" stroke="#fff" stroke-width="0.2">82.319</text>
<g shape-rendering="crispEdges">
<rect x="5" y="612" width="2" height="27" fill="#00ff00"/>
<rect x="20" y="614" width="3" height="25" fill="#00ff00"/>
<rect x="36" y="617" width="3" height="22" fill="#00ff00"/>
<rect x="52" y="624" width="3" height="15" fill="#00ff00"/>
<rect x="68" y="630" width="3" height="9" fill="#00ff00"/>
<rect x="84" y="636" width="3" height="3" fill="#00ff00"/>
<rect x="100" y="639" width="3" height="2" fill="#00ff00"/>
<rect x="116" y="639" width="3" height="8" fill="#00ff00"/>
<rect x="132" y="639" width="3" height="13" fill="#00ff00"/>
<rect x="148" y="639" width="3" height="21" fill="#00ff00"/>
<rect x="164" y="639" width="3" height="26" fill="#00ff00"/>
<rect x="180" y="639" width="3" height="29" fill="#00ff00"/>
<rect x="196" y="639" width="3" height="32" fill="#00ff00"/>
<rect x="212" y="639" width="3" height="34" fill="#00ff00"/>
<rect x="228" y="639" width="3" height="31" fill="#00ff00"/>
<rect x="244" y="639" width="3" height="30" fill="#00ff00"/>
<rect x="260" y="639" width="3" height="29" fill="#00ff00"/>
<rect x="276" y="639" width="3" height="26" fill="#00ff00"/>
<rect x="292" y="639" width="3" height="18" fill="#00ff00"/>
<rect x="308" y="639" width="3" height="12" fill="#00ff00"/>
<rect x="324" y="639" width="3" height="8" fill="#00ff00"/>
<rect x="340" y="639" width="3" height="4" fill="#00ff00"/>
<rect x="356" y="639" width="3" height="1" fill="#00ff00"/>
<rect x="372" y="636" width="3" height="3" fill="#00ff00"/>
<rect x="388" y="633" width="3" height="6" fill="#00ff00"/>
<rect x="404" y="634" width="3" height="5" fill="#00ff00"/>
<rect x="420" y="638" width="3" height="1" fill="#00ff00"/>
<rect x="436" y="639" width="3" height="7" fill="#00ff00"/>
<rect x="452" y="639" width="3" height="11" fill="#00ff00"/>
<rect x="468" y="639" width="3" height="14" fill="#00ff00"/>
<rect x="484" y="639" width="3" height="18" fill="#00ff00"/>
<rect x="500" y="639" width="3" height="20" fill="#00ff00"/>
<rect x="516" y="639" width="3" height="20" fill="#00ff00"/>
<rect x="532" y="639" width="3" height="18" fill="#00ff00"/>
<rect x="548" y="639" width="3" height="16" fill="#00ff00"/>
<rect x="564" y="639" width="3" height="15" fill="#00ff00"/>
<rect x="580" y="639" width="3" height="13" fill="#00ff00"/>
<rect x="596" y="639" width="3" height="11" fill="#00ff00"/>
<rect x="612" y="639" width="3" height="16" fill="#00ff00"/>
<rect x="628" y="639" width="3" height="16" fill="#00ff00"/>
<rect x="644" y="639" width="3" height="17" fill="#00ff00"/>
<rect x="660" y="639" width="3" height="19" fill="#00ff00"/>
<rect x="676" y="639" width="3" height="20" fill="#00ff00"/>
<rect x="692" y="639" width="3" height="22" fill="#00ff00"/>
<rect x="708" y="639" width="3" height="27" fill="#00ff00"/>
<rect x="724" y="639" width="3" height="31" fill="#00ff00"/>
<rect x="740" y="639" width="3" height="34" fill="#00ff00"/>
<rect x="756" y="639" width="3" height="34" fill="#00ff00"/>
<rect x="772" y="639" width="3" height="36" fill="#00ff00"/>
<rect x="788" y="639" width="3" height="41" fill="#00ff00"/>
<rect x="804" y="639" width="3" height="48" fill="#00ff00"/>
<rect x="820" y="639" width="3" height="50" fill="#00ff00"/>
<rect x="836" y="639" width="3" height="53" fill="#00ff00"/>
<rect x="852" y="639" width="3" height="53" fill="#00ff00"/>
<rect x="868" y="639" width="3" height="52" fill="#00ff00"/>
<rect x="884" y="639" width="3" height="54" fill="#00ff00"/>
<rect x="900" y="639" width="3" height="55" fill="#00ff00"/>
<rect x="916" y="639" width="3" height="54" fill="#00ff00"/>
<rect x="932" y="639" width="3" height="53" fill="#00ff00"/>
<rect x="948" y="639" width="3" height="61" fill="#00ff00"/>
<rect x="964" y="639" width="3" height="56" fill="#00ff00"/>
<rect x="980" y="639" width="3" height="51" fill="#00ff00"/>
<rect x="996" y="639" width="3" height="46" fill="#00ff00"/>
<rect x="1012" y="639" width="3" height="40" fill="#00ff00"/>
<rect x="1028" y="639" width="3" height="34" fill="#00ff00"/>
<rect x="1044" y="639" width="3" height="26" fill="#00ff00"/>
<rect x="1060" y="639" width="3" height="23" fill="#00ff00"/>
<rect x="1076" y="639" width="3" height="21" fill="#00ff00"/>
<rect x="1092" y="639" width="3" height="19" fill="#00ff00"/>
<rect x="1108" y="639" width="3" height="15" fill="#00ff00"/>
<rect x="1124" y="639" width="3" height="20" fill="#00ff00"/>
<rect x="1140" y="639" width="3" height="27" fill="#00ff00"/>
<rect x="1156" y="639" width="3" height="32" fill="#00ff00"/>
<rect x="1172" y="639" width="3" height="35" fill="#00ff00"/>
<rect x="1188" y="639" width="3" height="36" fill="#00ff00"/>
<rect x="1204" y="639" width="3" height="37" fill="#00ff00"/>
<rect x="1220" y="639" width="3" height="38" fill="#00ff00"/>
<rect x="1236" y="639" width="3" height="38" fill="#00ff00"/>
<rect x="1252" y="639" width="3" height="36" fill="#00ff00"/>
<rect x="1613" y="604" width="1" height="1" fill="#000"/>
<rect x="1613" y="639" width="2" height="1" fill="#000"/>
<rect x="1613" y="703" width="1" height="1" fill="#000"/>
</g>
<polyline points="5,609.5 21,610 37,611.2 53,613 69,615 85,617.5 101,621.2 117,625 133,629.4 149,634.4 165,640 181,645.7 197,651.2 213,656.2 229,660.4 245,663.6 261,665.6 277,666.6 293,666.6 309,665.4 325,662.9 341,659.9 357,656.7 373,652.9 389,649.2 405,645.7 421,643 437,640.4 453,640 469,640.7 485,643 501,645 517,647.4 533,650 549,652.4 565,653.7 581,653.7 597,654.4 613,654.7 629,654 645,653.7 661,653.7 677,654.2 693,655.4 709,657 725,658.7 741,660.7 757,663.7 773,665.7 789,667.4 805,672 821,674.4 837,677.4 853,680.4 869,683.4 885,685.4 901,687 917,689 933,691.3 949,692.3 965,692.6 981,692 997,691.6 1013,690 1029,687.8 1045,684.8 1061,681.4 1077,678.9 1093,673.9 1109,667.9 1125,665.4 1141,663.6 1157,662.4 1173,662 1189,663.1 1205,665 1221,667 1237,668.9 1253,670.9" fill="none" stroke="#ff0000" stroke-width="2" stroke-linejoin="round" shape-rendering="crispEdges"/>
<text transform="translate(9,615) scale(0.9234,1)" font-size="10.15" fill="#000" stroke="#000" stroke-width="0.2">MACD(12,26,9) -1.1255 -1.0323</text>
<text transform="translate(1617,613) scale(0.9234,1)" font-size="10.15" fill="#000" stroke="#000" stroke-width="0.2">1.1174</text>
<text transform="translate(1617,643) scale(0.9234,1)" font-size="10.15" fill="#000" stroke="#000" stroke-width="0.2">0.00</text>
<text transform="translate(1616,701) scale(0.9234,1)" font-size="10.15" fill="#000" stroke="#000" stroke-width="0.2">-2.0584</text>
<g shape-rendering="crispEdges">
<line x1="6" y1="726.5" x2="1611" y2="726.5" stroke="#000" stroke-width="1" stroke-dasharray="3,3"/>
<line x1="6" y1="753.5" x2="1611" y2="753.5" stroke="#000" stroke-width="1" stroke-dasharray="3,3"/>
<line x1="6" y1="786.5" x2="1611" y2="786.5" stroke="#000" stroke-width="1" stroke-dasharray="3,3"/>
<rect x="1613" y="708" width="1" height="1" fill="#000"/>
<rect x="1613" y="799" width="1" height="1" fill="#000"/>
<rect x="5" y="801" width="1" height="3" fill="#000"/>
<rect x="69" y="801" width="1" height="3" fill="#000"/>
<rect x="133" y="801" width="1" height="3" fill="#000"/>
<rect x="197" y="801" width="1" height="3" fill="#000"/>
<rect x="261" y="801" width="1" height="3" fill="#000"/>
<rect x="325" y="801" width="1" height="3" fill="#000"/>
<rect x="389" y="801" width="1" height="3" fill="#000"/>
<rect x="453" y="801" width="1" height="3" fill="#000"/>
<rect x="517" y="801" width="1" height="3" fill="#000"/>
<rect x="581" y="801" width="1" height="3" fill="#000"/>
<rect x="645" y="801" width="1" height="3" fill="#000"/>
<rect x="709" y="801" width="1" height="3" fill="#000"/>
<rect x="773" y="801" width="1" height="3" fill="#000"/>
<rect x="837" y="801" width="1" height="3" fill="#000"/>
<rect x="901" y="801" width="1" height="3" fill="#000"/>
<rect x="965" y="801" width="1" height="3" fill="#000"/>
<rect x="1029" y="801" width="1" height="3" fill="#000"/>
<rect x="1093" y="801" width="1" height="3" fill="#000"/>
<rect x="1157" y="801" width="1" height="3" fill="#000"/>
<rect x="1221" y="801" width="1" height="3" fill="#000"/>
</g>
<polyline points="5,748.9 21,749.2 37,749.9 53,761.9 69,763.9 85,763.9 101,762.9 117,767.9 133,770.9 149,773.6 165,773.6 181,772.6 197,772.6 213,772.6 229,757.7 245,761.9 261,761.9 277,758.4 293,745.7 309,745.7 325,749.9 341,748.9 357,747.9 373,745.9 389,745.7 405,753.4 421,758.7 437,765.6 453,765.6 469,764.6 485,765.6 501,765.6 517,759.2 533,756.9 549,755.9 565,758.7 581,752.9 597,754.4 613,763.9 629,760.2 645,760.2 661,764.1 677,762.1 693,764.4 709,769.9 725,769.9 741,769.9 757,766.9 773,768.9 789,773.9 805,778.1 821,771.1 837,770.9 853,767.9 869,767.9 885,770.9 901,770.9 917,768.9 933,767.9 949,778.1 965,758.9 981,758.2 997,756.9 1013,754.9 1029,753.2 1045,751.9 1061,754.9 1077,755.9 1093,755.9 1109,752.4 1125,763.9 1141,765.6 1157,765.6 1173,765.7 1189,763.9 1205,764.5 1221,764.9 1237,763.4 1253,761.8" fill="none" stroke="#1e90ff" stroke-width="2" stroke-linejoin="round" shape-rendering="crispEdges"/>
<text transform="translate(9,719) scale(0.9234,1)" font-size="10.15" fill="#000" stroke="#000" stroke-width="0.2">RSI(14) 41.4368</text>
<text transform="translate(1616.4,717) scale(0.9234,1)" font-size="10.15" fill="#000" stroke="#000" stroke-width="0.2">100</text>
<text transform="translate(1615,730) scale(0.9234,1)" font-size="10.15" fill="#000" stroke="#000" stroke-width="0.2">80</text>
<text transform="translate(1615,757) scale(0.9234,1)" font-size="10.15" fill="#000" stroke="#000" stroke-width="0.2">50</text>
<text transform="translate(1615,790) scale(0.9234,1)" font-size="10.15" fill="#000" stroke="#000" stroke-width="0.2">15</text>
<text transform="translate(1616,797) scale(0.9234,1)" font-size="10.15" fill="#000" stroke="#000" stroke-width="0.2">0</text>
<text transform="translate(3.8,813) scale(0.9234,1)" font-size="10.15" fill="#000" stroke="#000" stroke-width="0.2" word-spacing="0.9">8 Nov 2022</text>
<text transform="translate(67.8,813) scale(0.9234,1)" font-size="10.15" fill="#000" stroke="#000" stroke-width="0.2" word-spacing="0.9">8 Nov 21:00</text>
<text transform="translate(131.8,813) scale(0.9234,1)" font-size="10.15" fill="#000" stroke="#000" stroke-width="0.2" word-spacing="0.9">9 Nov 13:00</text>
<text transform="translate(195.8,813) scale(0.9234,1)" font-size="10.15" fill="#000" stroke="#000" stroke-width="0.2" word-spacing="0.9">10 Nov 05:00</text>
<text transform="translate(259.8,813) scale(0.9234,1)" font-size="10.15" fill="#000" stroke="#000" stroke-width="0.2" word-spacing="0.9">10 Nov 21:00</text>
<text transform="translate(323.8,813) scale(0.9234,1)" font-size="10.15" fill="#000" stroke="#000" stroke-width="0.2" word-spacing="0.9">11 Nov 13:00</text>
<text transform="translate(387.8,813) scale(0.9234,1)" font-size="10.15" fill="#000" stroke="#000" stroke-width="0.2" word-spacing="0.9">14 Nov 05:00</text>
<text transform="translate(451.8,813) scale(0.9234,1)" font-size="10.15" fill="#000" stroke="#000" stroke-width="0.2" word-spacing="0.9">14 Nov 21:00</text>
<text transform="translate(515.8,813) scale(0.9234,1)" font-size="10.15" fill="#000" stroke="#000" stroke-width="0.2" word-spacing="0.9">15 Nov 13:00</text>
<text transform="translate(579.8,813) scale(0.9234,1)" font-size="10.15" fill="#000" stroke="#000" stroke-width="0.2" word-spacing="0.9">16 Nov 05:00</text>
<text transform="translate(643.8,813) scale(0.9234,1)" font-size="10.15" fill="#000" stroke="#000" stroke-width="0.2" word-spacing="0.9">16 Nov 21:00</text>
<text transform="translate(707.8,813) scale(0.9234,1)" font-size="10.15" fill="#000" stroke="#000" stroke-width="0.2" word-spacing="0.9">17 Nov 13:00</text>
<text transform="translate(771.8,813) scale(0.9234,1)" font-size="10.15" fill="#000" stroke="#000" stroke-width="0.2" word-spacing="0.9">18 Nov 05:00</text>
<text transform="translate(835.8,813) scale(0.9234,1)" font-size="10.15" fill="#000" stroke="#000" stroke-width="0.2" word-spacing="0.9">18 Nov 18:00</text>
<text transform="translate(899.8,813) scale(0.9234,1)" font-size="10.15" fill="#000" stroke="#000" stroke-width="0.2" word-spacing="0.9">21 Nov 01:00</text>
<text transform="translate(963.8,813) scale(0.9234,1)" font-size="10.15" fill="#000" stroke="#000" stroke-width="0.2" word-spacing="0.9">21 Nov 17:00</text>
<text transform="translate(1027.8,813) scale(0.9234,1)" font-size="10.15" fill="#000" stroke="#000" stroke-width="0.2" word-spacing="0.9">22 Nov 09:00</text>
<text transform="translate(1091.8,813) scale(0.9234,1)" font-size="10.15" fill="#000" stroke="#000" stroke-width="0.2" word-spacing="0.9">23 Nov 01:00</text>
<text transform="translate(1155.8,813) scale(0.9234,1)" font-size="10.15" fill="#000" stroke="#000" stroke-width="0.2" word-spacing="0.9">23 Nov 17:00</text>
<text transform="translate(1219.8,813) scale(0.9234,1)" font-size="10.15" fill="#000" stroke="#000" stroke-width="0.2" word-spacing="0.9">24 Nov 09:00</text>
</svg></body></html>
